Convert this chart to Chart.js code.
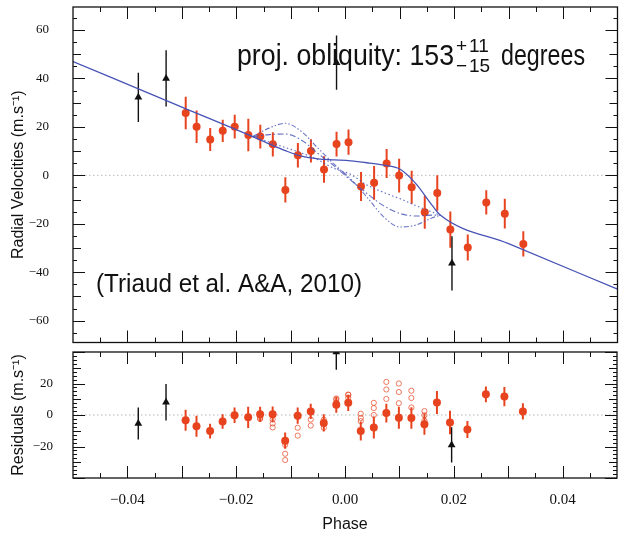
<!DOCTYPE html>
<html>
<head>
<meta charset="utf-8">
<script src="https://cdn.jsdelivr.net/npm/chart.js@4.4.0/dist/chart.umd.min.js"></script>
<style>
  body { margin: 0; background: #fff; width: 622px; height: 534px; position: relative; overflow: hidden; }
  #rv { position: absolute; left: 0; top: 0; width: 622px; height: 347px; }
  #res { position: absolute; left: 0; top: 347px; width: 622px; height: 187px; }
</style>
</head>
<body>
<canvas id="rv" width="622" height="347"></canvas>
<canvas id="res" width="622" height="187"></canvas>
<script>
// red points: phase, radial velocity, error, residual
const rvPhase = [-0.0293, -0.0273, -0.0248, -0.0225, -0.0203, -0.0178, -0.0156, -0.0133, -0.0110, -0.0087, -0.0063, -0.0039, -0.0016,
                 0.0006, 0.0029, 0.0053, 0.0076, 0.0099, 0.0122, 0.0146, 0.0169, 0.0193, 0.0225, 0.0259, 0.0293, 0.0327]
const rvValue = [25.7, 20.1, 14.8, 18.4, 20.1, 16.7, 16.0, 12.8, -6.0, 8.3, 10.1, 2.4, 12.9,
                 13.7, -4.6, -3.1, 4.9, -0.1, -4.9, -15.2, -7.3, -22.4, -29.8, -11.2, -15.8, -28.3]
const rvError = [6.7, 6.7, 4.7, 4.6, 4.9, 6.7, 4.9, 5.0, 5.2, 5.1, 4.8, 5.5, 5.1,
                 5.2, 6.0, 7.0, 6.0, 7.0, 6.8, 6.8, 7.3, 7.5, 5.4, 5.0, 6.1, 5.2]
const resValue = [-3.3, -7.1, -10.2, -4.2, -0.2, -1.5, 0.4, 0.4, -16.3, -0.4, 2.3, -5.0, 6.5,
                  7.7, -10.2, -7.9, 1.2, -1.7, -1.9, -5.8, 7.9, -4.8, -9.2, 13.1, 11.7, 2.3]

// black triangles
const blkPhase = [-0.0380, -0.0329, -0.0016, 0.0196]
const blkValue = [32.2, 40.0, 46.5, -36.3]
const blkError = [10.2, 11.6, 11.2, 11.2]
const blkRes = [-5.4, 8.1, 40.0, -19.0]

// residuals against the three alternative models (open circles)
const altPhase = [-0.0156, -0.0133, -0.0110, -0.0087, -0.0063, -0.0039, -0.0016, 0.0006, 0.0029, 0.0053, 0.0076, 0.0099, 0.0122, 0.0146]
const altResWide = [-2.5, -7.9, -28.6, -13.1, -6.7, -8.1, 9.8, 12.9, 0.8, 7.7, 21.0, 20.0, 15.4, 2.5]
const altResMid = [-1.9, -5.4, -24.6, -8.1, -2.9, -5.0, 8.0, 11.0, -1.9, 4.4, 16.2, 14.6, 10.8, -0.2]
const altResFlat = [-0.5, -2.7, -19.0, -1.0, 2.3, -3.0, 10.5, 12.9, -3.9, 0.0, 10.2, 7.5, 4.8, -3.6]

// best-fit model (solid)
const fitPhase = [-0.05, -0.03, -0.017, -0.014, -0.011, -0.008, -0.005, -0.002, 0.001, 0.004, 0.007, 0.010, 0.013, 0.016, 0.0175, 0.03, 0.05]
const fitValue = [47.0, 28.2, 16.0, 13.0, 10.2, 7.9, 6.8, 6.4, 6.0, 5.2, 4.2, 2.6, -3.5, -12.5, -16.5, -28.2, -47.0]

// alternative RM curves during transit
const rmPhase = [-0.017, -0.014, -0.011, -0.008, -0.005, -0.002, 0.001, 0.004, 0.007, 0.010, 0.013, 0.016, 0.0175]
const rmWide = [16.0, 19.5, 21.5, 18.0, 11.2, 4.5, -1.5, -9.0, -17.0, -21.3, -20.5, -17.5, -16.5]
const rmMid = [16.0, 16.8, 17.1, 14.5, 9.0, 3.8, -2.0, -7.5, -12.5, -15.7, -16.8, -16.4, -16.5]
const rmFlat = [16.0, 13.8, 11.5, 9.2, 6.4, 2.8, 0.4, -4.0, -7.0, -9.6, -12.5, -15.2, -16.5]

const rvTicks = [-60, -40, -20, 0, 20, 40, 60]
const resTicks = [-20, 0, 20]
const phaseTicks = [-0.04, -0.02, 0, 0.02, 0.04]

const ink = '#111'
const red = '#e8431f'
const blue = '#4753b6'

function pts(xs, ys) {
  return xs.map((x, i) => ({ x: x, y: ys[i] }))
}

function minusLabel(v, digits) {
  const s = Math.abs(v).toFixed(digits)
  return v < 0 ? '\u2212' + s : s
}

// zero line, frame and inward ticks
const frameTicks = {
  id: 'frameTicks',
  beforeDatasetsDraw(chart) {
    const { ctx, chartArea: a, scales } = chart
    const y0 = scales.y.getPixelForValue(0)
    ctx.save()
    ctx.strokeStyle = '#b8b8b8'
    ctx.lineWidth = 1
    ctx.setLineDash([1.5, 2.5])
    ctx.beginPath()
    ctx.moveTo(a.left, y0)
    ctx.lineTo(a.right, y0)
    ctx.stroke()
    ctx.restore()
  },
  afterDraw(chart, args, opts) {
    const { ctx, chartArea: a, scales } = chart
    ctx.save()
    ctx.strokeStyle = ink
    ctx.lineWidth = 1.3
    ctx.strokeRect(a.left, a.top, a.right - a.left, a.bottom - a.top)
    ctx.lineWidth = 1
    ctx.beginPath()
    for (let i = -9; i <= 9; i++) {
      const px = Math.round(scales.x.getPixelForValue(i * 0.005)) + 0.5
      const len = i % 2 === 0 ? 12 : 5
      ctx.moveTo(px, a.top)
      ctx.lineTo(px, a.top + len)
      ctx.moveTo(px, a.bottom)
      ctx.lineTo(px, a.bottom - len)
    }
    const step = opts.minor
    const k0 = Math.ceil(scales.y.min / step)
    const k1 = Math.floor(scales.y.max / step)
    for (let k = k0; k <= k1; k++) {
      const v = k * step
      const py = Math.round(scales.y.getPixelForValue(v)) + 0.5
      const len = v % 20 === 0 ? 12 : (v % 10 === 0 ? 8 : 4)
      ctx.moveTo(a.left, py)
      ctx.lineTo(a.left + len, py)
      ctx.moveTo(a.right, py)
      ctx.lineTo(a.right - len, py)
    }
    ctx.stroke()
    ctx.restore()
  }
}

const errorBars = {
  id: 'errorBars',
  beforeDatasetsDraw(chart) {
    const { ctx, chartArea: a, scales } = chart
    ctx.save()
    ctx.beginPath()
    ctx.rect(a.left, a.top, a.right - a.left, a.bottom - a.top)
    ctx.clip()
    chart.data.datasets.forEach(ds => {
      if (!ds.errors) return
      ctx.strokeStyle = ds.barColor
      ctx.lineWidth = ds.barWidth
      ctx.beginPath()
      ds.data.forEach((p, i) => {
        const px = scales.x.getPixelForValue(p.x)
        ctx.moveTo(px, scales.y.getPixelForValue(p.y - ds.errors[i]))
        ctx.lineTo(px, scales.y.getPixelForValue(p.y + ds.errors[i]))
      })
      ctx.stroke()
    })
    ctx.restore()
  }
}

const notes = {
  id: 'notes',
  beforeDatasetsDraw(chart) {
    const ctx = chart.ctx
    ctx.save()
    ctx.fillStyle = ink
    ctx.textBaseline = 'alphabetic'
    ctx.font = '29px "Liberation Sans"'
    ctx.fillText('proj. obliquity: 153', 237, 65, 217)
    ctx.fillText('degrees', 501, 65, 84)
    ctx.font = '19px "Liberation Sans"'
    ctx.fillText('+', 456, 52)
    ctx.fillText('11', 469, 52)
    ctx.fillText('\u2212', 456, 72)
    ctx.fillText('15', 469, 72)
    ctx.font = '26px "Liberation Sans"'
    ctx.fillText('(Triaud et al. A&A, 2010)', 96, 292, 266)
    ctx.restore()
  }
}

function yScale(min, max, ticks, pad, title) {
  return {
    min: min,
    max: max,
    afterBuildTicks: s => { s.ticks = ticks.map(v => ({ value: v })) },
    afterFit: s => {
      s.width = 73
      s.paddingTop = 0
      s.paddingBottom = 0
    },
    grid: { display: false, drawTicks: false },
    border: { display: false },
    ticks: {
      color: ink,
      padding: pad,
      font: { family: '"Liberation Serif"', size: 13 },
      callback: v => minusLabel(v, 0)
    },
    title: {
      display: true,
      text: title,
      color: ink,
      padding: { top: 9, bottom: 0 },
      font: { family: '"Liberation Sans"', size: 16 }
    }
  }
}

const common = {
  responsive: false,
  animation: false,
  devicePixelRatio: 1,
  plugins: { legend: { display: false }, tooltip: { enabled: false } }
}

new Chart(document.getElementById('rv'), {
  type: 'scatter',
  data: {
    datasets: [
      { data: pts(rmPhase, rmWide), showLine: true, pointRadius: 0, borderColor: 'rgba(71,83,182,0.8)',
        borderWidth: 1.1, borderDash: [5, 2, 1.5, 2, 1.5, 2], cubicInterpolationMode: 'monotone' },
      { data: pts(rmPhase, rmMid), showLine: true, pointRadius: 0, borderColor: 'rgba(71,83,182,0.85)',
        borderWidth: 1.1, borderDash: [6, 2.5, 1.5, 2.5], cubicInterpolationMode: 'monotone' },
      { data: pts(rmPhase, rmFlat), showLine: true, pointRadius: 0, borderColor: 'rgba(71,83,182,0.85)',
        borderWidth: 1.1, borderDash: [1.5, 2.5], cubicInterpolationMode: 'monotone' },
      { data: pts(fitPhase, fitValue), showLine: true, pointRadius: 0, borderColor: blue,
        borderWidth: 1.3, cubicInterpolationMode: 'monotone' },
      { data: pts(rvPhase, rvValue), errors: rvError, barColor: red, barWidth: 2,
        pointStyle: 'circle', pointRadius: 4, backgroundColor: red, borderWidth: 0 },
      { data: pts(blkPhase, blkValue), errors: blkError, barColor: ink, barWidth: 1.4,
        pointStyle: 'triangle', pointRadius: 4.5, backgroundColor: ink, borderWidth: 0 }
    ]
  },
  options: Object.assign({}, common, {
    layout: { padding: { top: 7, right: 1, bottom: 1, left: 0 } },
    scales: {
      x: { type: 'linear', min: -0.05, max: 0.05, display: false },
      y: yScale(-69, 69.5, rvTicks, 24, 'Radial Velocities (m.s\u207B\u00B9)')
    },
    plugins: Object.assign({}, common.plugins, { frameTicks: { minor: 5 } })
  }),
  plugins: [frameTicks, notes, errorBars]
})

const openRing = { pointStyle: 'circle', pointRadius: 2.6, backgroundColor: 'rgba(0,0,0,0)',
                   borderColor: 'rgba(232,67,31,0.7)', borderWidth: 1 }

new Chart(document.getElementById('res'), {
  type: 'scatter',
  data: {
    datasets: [
      Object.assign({ data: pts(altPhase, altResWide) }, openRing),
      Object.assign({ data: pts(altPhase, altResMid) }, openRing),
      Object.assign({ data: pts(altPhase, altResFlat) }, openRing),
      { data: pts(rvPhase, resValue), errors: rvError, barColor: red, barWidth: 2,
        pointStyle: 'circle', pointRadius: 4, backgroundColor: red, borderWidth: 0 },
      { data: pts(blkPhase, blkRes), errors: blkError, barColor: ink, barWidth: 1.4,
        pointStyle: 'triangle', pointRadius: 4.5, backgroundColor: ink, borderWidth: 0 }
    ]
  },
  options: Object.assign({}, common, {
    layout: { padding: { top: 2, right: 1, bottom: 0, left: 0 } },
    scales: {
      x: {
        type: 'linear',
        min: -0.05,
        max: 0.05,
        afterBuildTicks: s => { s.ticks = phaseTicks.map(v => ({ value: v })) },
        afterFit: s => { s.height = 56 },
        grid: { display: false, drawTicks: false },
        border: { display: false },
        ticks: {
          color: ink,
          padding: 13,
          maxRotation: 0,
          font: { family: '"Liberation Serif"', size: 15 },
          callback: v => minusLabel(v, 2)
        },
        title: {
          display: true,
          text: 'Phase',
          color: ink,
          padding: 0,
          font: { family: '"Liberation Sans"', size: 16 }
        }
      },
      y: yScale(-40, 40, resTicks, 20, 'Residuals (m.s\u207B\u00B9)')
    },
    plugins: Object.assign({}, common.plugins, { frameTicks: { minor: 2.5 } })
  }),
  plugins: [frameTicks, errorBars]
})
</script>
</body>
</html>
